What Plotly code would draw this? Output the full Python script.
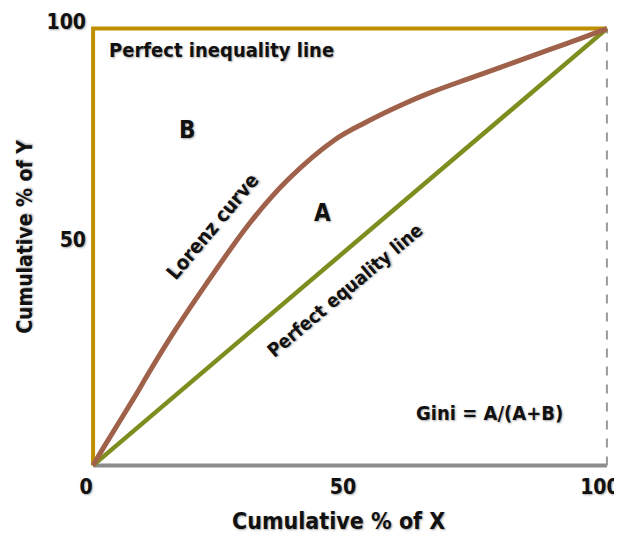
import plotly.graph_objects as go

# Lorenz curve (cumulative % of X vs cumulative % of Y)
lorenz_x = [0, 2, 8, 11, 16, 22, 30.5, 38, 47, 53, 60, 66, 73, 79, 86, 92, 100]
lorenz_y = [0, 4, 15.5, 21.5, 31, 41.5, 55.5, 65.5, 74.5, 78.5, 82.5, 85.5, 88.5, 91, 94, 96.5, 100]

equality_x = [0, 100]
equality_y = [0, 100]

inequality_x = [0, 0, 100]
inequality_y = [0, 100, 100]

x_ticks = [0, 50, 100]
y_ticks = [50, 100]

FONT = "DejaVu Sans Condensed, Liberation Sans Narrow, sans-serif"
SHADOW = "1px 1px 2px rgba(0,0,0,0.35)"
INK = "#111111"

fig = go.Figure()

# bottom axis line and dashed right edge
fig.add_trace(go.Scatter(x=[0, 100], y=[0, 0], mode="lines",
                         line=dict(color="#8c8c8c", width=4), hoverinfo="skip"))
fig.add_trace(go.Scatter(x=[100, 100], y=[0, 100], mode="lines",
                         line=dict(color="#9a9a9a", width=2, dash="dash"), hoverinfo="skip"))
# perfect inequality line
fig.add_trace(go.Scatter(x=inequality_x, y=inequality_y, mode="lines",
                         line=dict(color="#BF8F00", width=4), hoverinfo="skip"))
# perfect equality line
fig.add_trace(go.Scatter(x=equality_x, y=equality_y, mode="lines",
                         line=dict(color="#7F8C1E", width=4.5), hoverinfo="skip"))
# Lorenz curve
fig.add_trace(go.Scatter(x=lorenz_x, y=lorenz_y, mode="lines",
                         line=dict(color="#A0614B", width=5, shape="spline", smoothing=1.0),
                         hoverinfo="skip"))

labels = [
    dict(text="Perfect inequality line", x=24.9, y=95.2, textangle=0, size=20),
    dict(text="B", x=18.3, y=76.8, textangle=0, size=24),
    dict(text="A", x=44.6, y=57.8, textangle=0, size=24),
    dict(text="Lorenz curve", x=23.3, y=54.8, textangle=-50, size=20),
    dict(text="Perfect equality line", x=49.0, y=40.1, textangle=-40, size=19),
    dict(text="Gini = A/(A+B)", x=77.2, y=11.9, textangle=0, size=20),
]
for lab in labels:
    fig.add_annotation(x=lab["x"], y=lab["y"], text=lab["text"], showarrow=False,
                       textangle=lab["textangle"],
                       font=dict(family=FONT, size=lab["size"], color=INK,
                                 weight="bold", shadow=SHADOW))

# axis titles (placed as paper annotations, they sit a bit off-centre in the original)
fig.add_annotation(xref="paper", yref="paper", x=0.477, y=0, yanchor="middle", yshift=-53,
                   text="Cumulative % of X", showarrow=False,
                   font=dict(family=FONT, size=23, color=INK, weight="bold", shadow=SHADOW))
fig.add_annotation(xref="paper", yref="paper", x=0, y=0.523, xanchor="center", xshift=-65,
                   text="Cumulative % of Y", showarrow=False, textangle=-90,
                   font=dict(family=FONT, size=21, color=INK, weight="bold", shadow=SHADOW))

tick_font = dict(family=FONT, size=21, color=INK, weight="bold", shadow=SHADOW)

fig.update_xaxes(range=[-0.6, 100.6], tickvals=x_ticks, ticktext=[str(v) for v in x_ticks],
                 showgrid=False, zeroline=False, showline=False, ticks="",
                 ticklabelstandoff=4, ticklabelshift=-7, ticklabeloverflow="allow",
                 tickfont=tick_font)
fig.update_yaxes(range=[-0.6, 100.6], tickvals=y_ticks, ticktext=[str(v) for v in y_ticks],
                 showgrid=False, zeroline=False, showline=False, ticks="",
                 ticklabelstandoff=3, ticklabelshift=-7, ticklabeloverflow="allow",
                 tickfont=tick_font)

# page body has an 8px margin, so the figure is shifted and kept inside the window
fig.update_layout(width=614, height=526, showlegend=False,
                  paper_bgcolor="white", plot_bgcolor="white",
                  margin=dict(l=82, r=12, t=18, b=66, autoexpand=False))

fig.write_html("out.html")
